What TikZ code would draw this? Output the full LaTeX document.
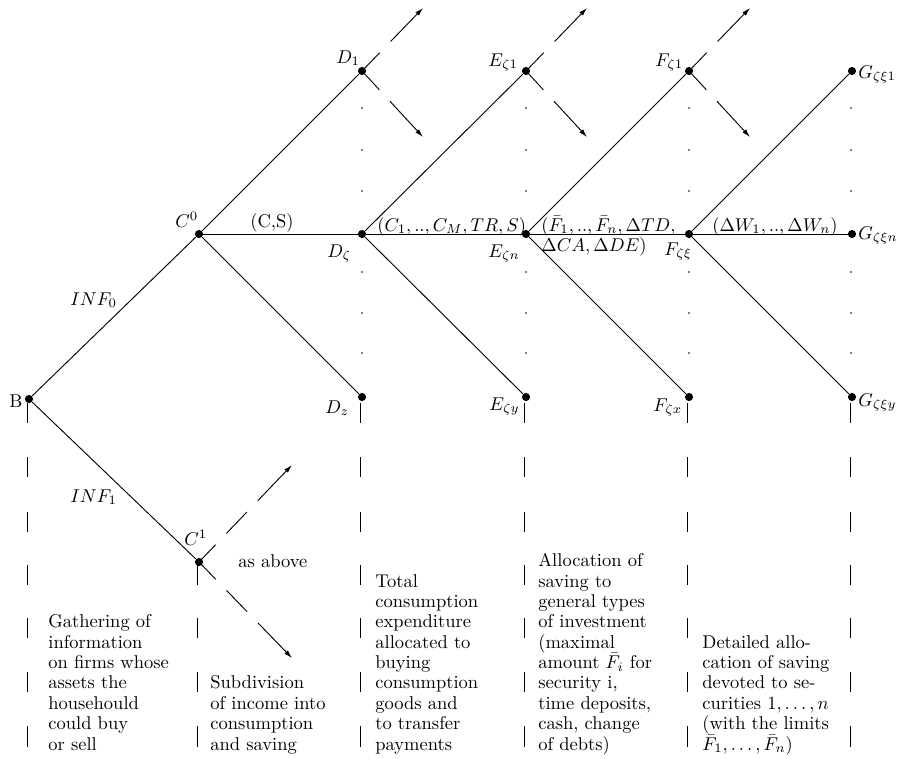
\documentclass[tikz,border=0pt]{standalone}
\usetikzlibrary{arrows.meta}
\begin{document}
\begin{tikzpicture}[x=0.5405pt,y=-0.5405pt,
  dot/.style={circle,fill,inner sep=0pt,minimum size=4.4pt},
  lab/.style={anchor=base west,inner sep=0pt},
  txt/.style={anchor=base west,inner sep=0pt,align=left,font={\fontsize{10}{11}\selectfont\lineskiplimit=-5pt\relax}},
  br/.style={line width=0.5pt},
  darr/.style={line width=0.5pt,-{Latex[length=4.5pt,width=2.6pt]},dash pattern=on 13.8pt off 8.4pt on 200pt},
  darrc/.style={line width=0.5pt,-{Latex[length=4.5pt,width=2.6pt]},dash pattern=on 13pt off 8.4pt on 16pt off 8.4pt on 200pt},
  tinydot/.style={fill}]
\useasboundingbox (0,0) rectangle (902,758);

% nodes (dots)
\node[dot] (B)  at (29,399) {};
\node[dot] (C0) at (199,234) {};
\node[dot] (C1) at (199,562) {};
\node[dot] (D1) at (362,71) {};
\node[dot] (Dze) at (362,234) {};
\node[dot] (Dz) at (362,397) {};
\node[dot] (E1) at (526,71) {};
\node[dot] (En) at (526,234) {};
\node[dot] (Ey) at (526,397) {};
\node[dot] (F1) at (689,71) {};
\node[dot] (Fxi) at (689,234) {};
\node[dot] (Fx) at (689,397) {};
\node[dot] (G1) at (852,71) {};
\node[dot] (Gn) at (852,234) {};
\node[dot] (Gy) at (852,397) {};

% branches
\draw[br] (B) -- (C0);
\draw[br] (B) -- (C1);
\draw[br] (C0) -- (D1);
\draw[br] (C0) -- (Dze);
\draw[br] (C0) -- (Dz);
\draw[br] (Dze) -- (E1);
\draw[br] (Dze) -- (En);
\draw[br] (Dze) -- (Ey);
\draw[br] (En) -- (F1);
\draw[br] (En) -- (Fxi);
\draw[br] (En) -- (Fx);
\draw[br] (Fxi) -- (G1);
\draw[br] (Fxi) -- (Gn);
\draw[br] (Fxi) -- (Gy);

% dashed arrows
\coordinate (D1u) at (423,8);   \coordinate (D1d) at (423,137);
\coordinate (E1u) at (587,8);   \coordinate (E1d) at (587,137);
\coordinate (F1u) at (750,8);   \coordinate (F1d) at (750,137);
\coordinate (C1u) at (292,465); \coordinate (C1d) at (292,658);
\draw[darr] (D1.center) -- (D1u);
\draw[darr] (D1.center) -- (D1d);
\draw[darr] (E1.center) -- (E1u);
\draw[darr] (E1.center) -- (E1d);
\draw[darr] (F1.center) -- (F1u);
\draw[darr] (F1.center) -- (F1d);
\draw[darrc] (C1.center) -- (C1u);
\draw[darrc] (C1.center) -- (C1d);

% vertical dotted columns
\foreach \xx in {362,526,689,851}
  \foreach \yy in {108,150,191,272,313,353}
    \fill[tinydot] (\xx,\yy) circle (0.45pt);

% vertical dashed separators
\foreach \xx in {27.5,360.5,524.5,687.5,850.5}
  \foreach \ya/\yb in {403/423,457/477,512/532,565/585,618/638,672/692,726/747}
    \draw[br] (\xx,\ya) -- (\xx,\yb);
\foreach \ya/\yb in {565/585,618/638,672/692,726/747}
  \draw[br] (197.5,\ya) -- (197.5,\yb);

% labels
\node[lab] (lB) at (9,407) {B};
\node[lab] (lC0) at (175,227) {$C^0$};
\node[lab] (lCS) at (250,227) {(C,S)};
\node[lab] (lD1) at (336,63) {$D_1$};
\node[lab] (lDze) at (327,257) {$D_\zeta$};
\node[lab] (lDz) at (325,413) {$D_z$};
\node[lab] (lCM) at (377,231) {$(C_1,..,C_M,TR,S)$};
\node[lab] (lE1) at (488,66) {$E_{\zeta 1}$};
\node[lab] (lEn) at (488,257) {$E_{\zeta n}$};
\node[lab] (lEy) at (489,410) {$E_{\zeta y}$};
\node[lab] (lFa) at (541,231) {$(\bar F_1,..,\bar F_n,\Delta TD,$};
\node[lab] (lFb) at (541,251) {$\Delta CA,\Delta DE)$};
\node[lab] (lF1) at (655,66) {$F_{\zeta 1}$};
\node[lab] (lFxi) at (664,255) {$F_{\zeta\xi}$};
\node[lab] (lFx) at (653,411) {$F_{\zeta x}$};
\node[lab] (lW) at (712,231) {$(\Delta W_1,..,\Delta W_n)$};
\node[lab] (lG1) at (858,78) {$G_{\zeta\xi 1}$};
\node[lab] (lGn) at (858,239) {$G_{\zeta\xi n}$};
\node[lab] (lGy) at (858,406) {$G_{\zeta\xi y}$};
\node[lab] (lC1) at (184,545) {$C^1$};
\node[lab] (lI0) at (70,305) {$INF_0$};
\node[lab] (lI1) at (70,502) {$INF_1$};
\node[lab] (lab) at (238,567) {as above};

% column descriptions (anchored at the baseline of their last line)
\node[txt] (t1) at (48,750) {Gathering of\\information\\on firms whose\\assets the\\househould\\could buy\\or sell};
\node[txt] (t2) at (210,750) {Subdivision\\of income into\\consumption\\and saving};
\node[txt] (t3) at (375,750) {Total\\consumption\\expenditure\\allocated to\\buying\\consumption\\goods and\\to transfer\\payments};
\node[txt] (t4) at (538,750) {Allocation of\\saving to\\general types\\of investment\\(maximal\\amount $\bar F_i$ for\\security i,\\time deposits,\\cash, change\\of debts)};
\node[txt] (t5) at (702,750) {Detailed allo-\\cation of saving\\devoted to se-\\curities $1,\ldots,n$\\(with the limits\\$\bar F_1,\ldots,\bar F_n$)};
\end{tikzpicture}
\end{document}
